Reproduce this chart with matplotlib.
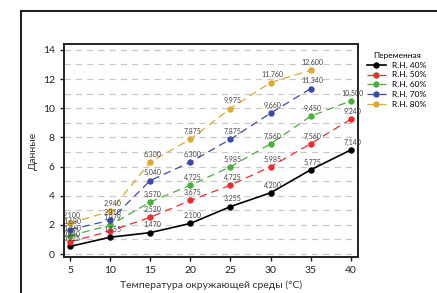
import matplotlib.pyplot as plt
from matplotlib.patches import Rectangle

plt.rcParams['font.family'] = ['Lato', 'DejaVu Sans']

temps = [5, 10, 15, 20, 25, 30, 35, 40]
rh40 = [0.525, 1.155, 1.470, 2.100, 3.255, 4.200, 5.775, 7.140]
rh50 = [0.840, 1.575, 2.520, 3.675, 4.725, 5.985, 7.560, 9.240]
rh60 = [1.260, 1.979, 3.570, 4.725, 5.985, 7.560, 9.450, 10.500]
rh70 = [1.680, 2.310, 5.040, 6.300, 7.875, 9.660, 11.340]
rh80 = [2.100, 2.940, 6.300, 7.875, 9.975, 11.760, 12.600]

series = [
    ('R.H. 40%', rh40, 'black', '-'),
    ('R.H. 50%', rh50, '#ee2a2f', '--'),
    ('R.H. 60%', rh60, '#46b03a', '--'),
    ('R.H. 70%', rh70, '#3b4aa6', '--'),
    ('R.H. 80%', rh80, '#dcaa2e', '--'),
]
# labels hidden in the original because they overlap
hidden = {('R.H. 50%', 10)}

fig = plt.figure(figsize=(4.37, 2.93), dpi=100)
ax = fig.add_axes([64/437, 1-257/293, 294/437, 213/293])

top = 1 - 11/293
fig.patches.append(Rectangle((21/437, -0.2), 1.2, top + 0.2, transform=fig.transFigure,
                             fill=False, edgecolor='#222222', linewidth=1.5))

for name, vals, col, ls in series:
    x = temps[:len(vals)]
    lw = 1.2 if ls == '-' else 0.9
    ax.plot(x, vals, ls, color=col, lw=lw, marker='o', markersize=3.6, label=name,
            dashes=(6, 4) if ls == '--' else (None, None))
    for xi, yi in zip(x, vals):
        if (name, xi) in hidden:
            continue
        ax.annotate('{:.3f}'.format(yi).replace('.', ','), (xi, yi), xytext=(1.5, 3),
                    textcoords='offset points', ha='center', va='bottom',
                    fontsize=5, color='#444444')

ax.set_xlim(4.25, 40.9)
ax.set_ylim(-0.2, 14.4)
ax.set_xticks(temps)
ax.set_yticks(range(0, 15, 2))
for v in range(0, 15):
    ax.axhline(v, color='#c8c8c8', lw=0.9, ls=(0, (5, 4)), zorder=0)

for s in ax.spines.values():
    s.set_linewidth(1.4)
    s.set_color('#222222')
ax.tick_params(labelsize=7.5, length=3, width=1, colors='#222222')
ax.set_xlabel('Температура окружающей среды (°C)', fontsize=7.5, color='#333333')
ax.set_ylabel('Данные', fontsize=7.5, color='#333333')

leg = ax.legend(title='Переменная', loc='upper left', bbox_to_anchor=(1.02, 0.98),
                frameon=False, fontsize=6, title_fontsize=6, handlelength=2.2,
                labelspacing=0.35, borderaxespad=0)

fig.savefig('out.png', dpi=100)
